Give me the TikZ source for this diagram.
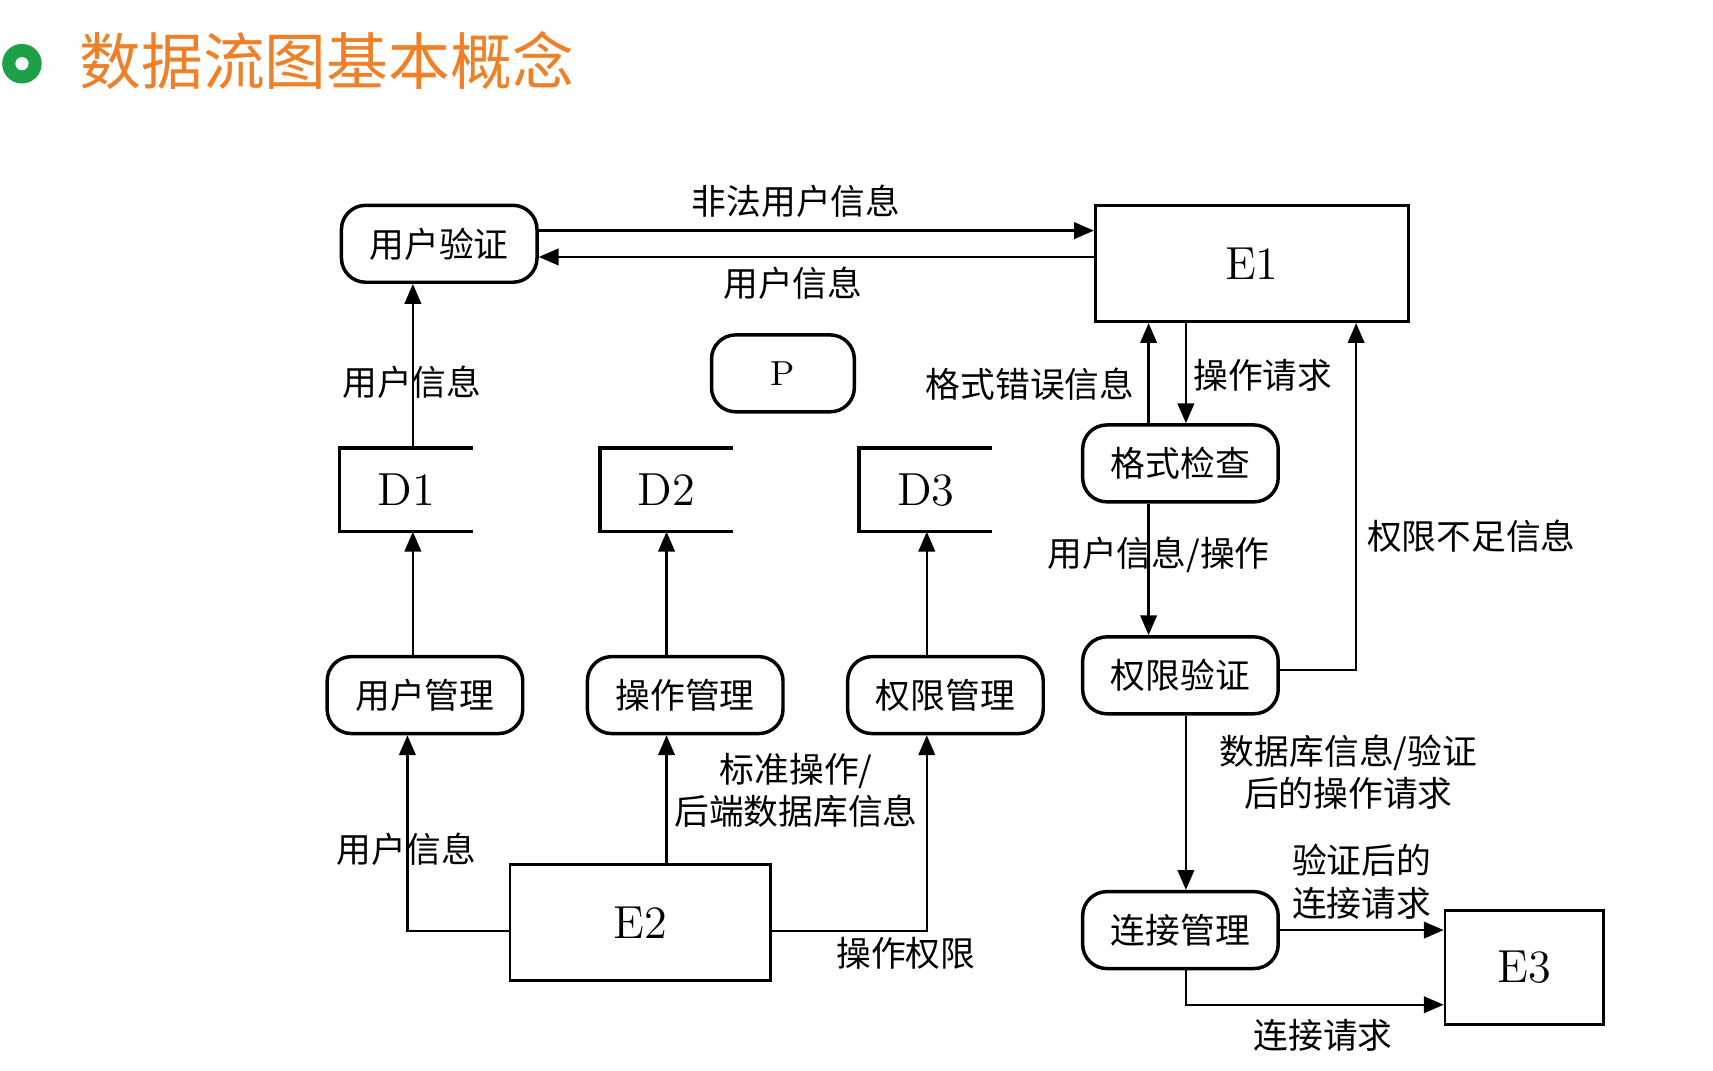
\documentclass[tikz,border=0pt]{standalone}
\usepackage{fontspec}
\newfontfamily\cjk{Noto Sans CJK SC}
\usetikzlibrary{arrows.meta}
\definecolor{titleorange}{RGB}{240,128,40}
\definecolor{icongreen}{RGB}{30,160,70}
\tikzset{
    proc/.style={rectangle, rounded corners=2.2mm, draw, line width=0.9pt, minimum width=1.78cm, minimum height=0.7cm, font=\cjk\small},
    ext/.style={rectangle, draw, line width=0.7pt, font=\large},
    store/.style={minimum width=1.2cm, minimum height=0.75cm, font=\large},
    flow/.style={-{Triangle[length=1.8mm,width=1.5mm]}, line width=0.6pt},
    lbl/.style={font=\cjk\small, inner sep=0.5pt}
}
\begin{document}
\begin{tikzpicture}[x=0.01cm,y=-0.01cm]
        \useasboundingbox (0,0) rectangle (1560,975);
        % title
        \node (icon) [circle, fill=icongreen, minimum size=0.36cm, inner sep=0pt] at (20,58) {};
        \node (dot) [circle, fill=white, minimum size=0.12cm, inner sep=0pt] at (20,58) {};
        \node (title) [anchor=west, text=titleorange, font=\cjk\fontsize{16}{18}\selectfont] at (60,55) {数据流图基本概念};
        % processes
        \node (yz) [proc] at (400,222) {用户验证};
        \node (p) [proc, minimum width=1.3cm] at (713,340) {\normalfont P};
        \node (yg) [proc] at (387,633) {用户管理};
        \node (cg) [proc] at (624,633) {操作管理};
        \node (qg) [proc] at (861,633) {权限管理};
        \node (gj) [proc] at (1075,422) {格式检查};
        \node (qy) [proc] at (1075,615) {权限验证};
        \node (lg) [proc] at (1075,847) {连接管理};
        % external entities
        \node (e1) [ext, minimum width=2.85cm, minimum height=1.06cm] at (1140,240) {E1};
        \node (e2) [ext, minimum width=2.37cm, minimum height=1.06cm] at (583,840) {E2};
        \node (e3) [ext, minimum width=1.44cm, minimum height=1.04cm] at (1388,881) {E3};
        % data stores
        \foreach \n/\x/\t in {d1/370/D1, d2/607/D2, d3/843/D3} {
                \node (\n) [store] at (\x,446) {\t};
                \draw [line width=0.9pt] (\n.north east) -- (\n.north west) -- (\n.south west) -- (\n.south east);
        }
        % flows
        \draw [flow] (yz.east |- 0,210) -- (e1.west |- 0,210);
        \draw [flow] (e1.west |- 0,234) -- (yz.east |- 0,234);
        \draw [flow] (d1.north -| 376,0) -- (yz.south -| 376,0);
        \draw [flow] (yg.north -| 376,0) -- (d1.south -| 376,0);
        \draw [flow] (cg.north -| 607,0) -- (d2.south -| 607,0);
        \draw [flow] (qg.north -| 844,0) -- (d3.south -| 844,0);
        \draw [flow] (e2.west |- 0,848) -| (yg.south -| 371,0);
        \draw [flow] (e2.north -| 607,0) -- (cg.south -| 607,0);
        \draw [flow] (e2.east |- 0,848) -| (qg.south -| 844,0);
        \draw [flow] (e1.south -| 1080,0) -- (gj.north -| 1080,0);
        \draw [flow] (gj.north -| 1046,0) -- (e1.south -| 1046,0);
        \draw [flow] (gj.south -| 1046,0) -- (qy.north -| 1046,0);
        \draw [flow] (qy.east |- 0,610) -| (e1.south -| 1235,0);
        \draw [flow] (qy.south -| 1080,0) -- (lg.north -| 1080,0);
        \draw [flow] (lg.east |- 0,847) -- (e3.west |- 0,847);
        \draw [flow] (lg.south -| 1080,0) |- (e3.west |- 0,915);
        % flow labels
        \node (l1) [lbl] at (725,183) {非法用户信息};
        \node (l2) [lbl] at (722,258) {用户信息};
        \node (l3) [lbl] at (375,348) {用户信息};
        \node (l4) [lbl] at (370,773) {用户信息};
        \node (l5) [lbl, align=center] at (725,720) {标准操作/\\后端数据库信息};
        \node (l6) [lbl] at (825,868) {操作权限};
        \node (l7) [lbl] at (1150,342) {操作请求};
        \node (l8) [lbl] at (938,350) {格式错误信息};
        \node (l9) [lbl] at (1055,505) {用户信息/操作};
        \node (l10) [lbl] at (1340,488) {权限不足信息};
        \node (l11) [lbl, align=center] at (1228,703) {数据库信息/验证\\后的操作请求};
        \node (l12) [lbl, align=center] at (1240,803) {验证后的\\连接请求};
        \node (l13) [lbl] at (1205,943) {连接请求};
\end{tikzpicture}
\end{document}
